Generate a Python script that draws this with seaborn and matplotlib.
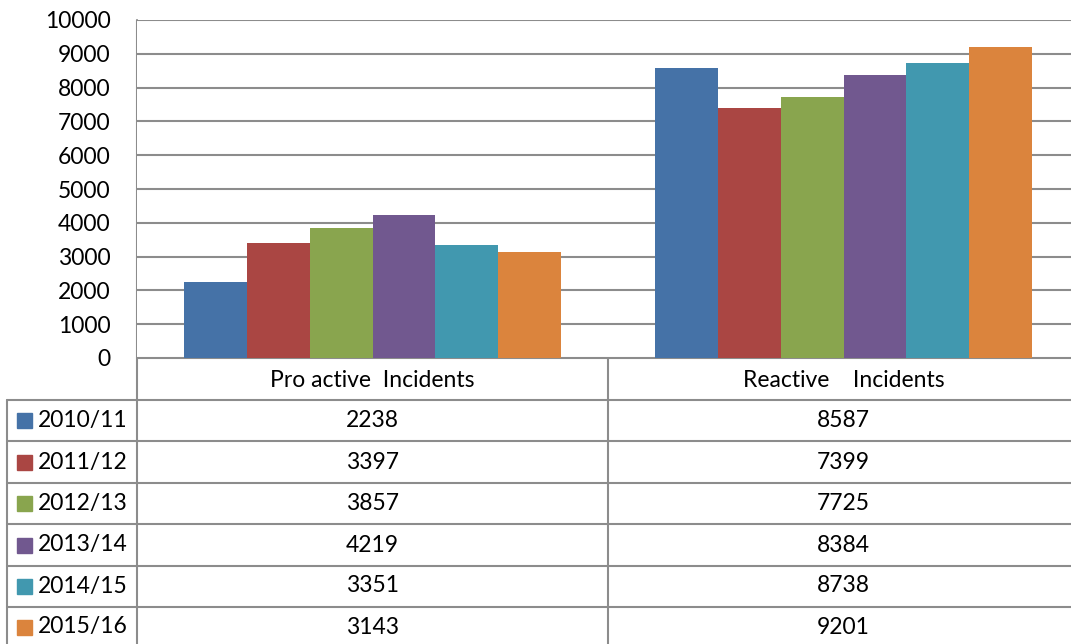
import pandas as pd
import matplotlib
matplotlib.use("Agg")
import matplotlib.pyplot as plt
import matplotlib.transforms as mtransforms
import seaborn as sns

# data
categories = ['Pro active  Incidents', 'Reactive    Incidents']
years = ['2010/11', '2011/12', '2012/13', '2013/14', '2014/15', '2015/16']
proactive = [2238, 3397, 3857, 4219, 3351, 3143]
reactive = [8587, 7399, 7725, 8384, 8738, 9201]
colors = ['#4572A7', '#AA4643', '#89A54E', '#71588F', '#4198AF', '#DB843D']

rows = []
for y, p, r in zip(years, proactive, reactive):
    rows.append({'category': categories[0], 'year': y, 'value': p})
    rows.append({'category': categories[1], 'year': y, 'value': r})
df = pd.DataFrame(rows)

sns.set_theme(style='white')
plt.rcParams['font.family'] = ['Lato', 'DejaVu Sans']
FS = 16.5
GRID = '#8c8c8c'

W, H = 1071, 644
fig = plt.figure(figsize=(W / 100, H / 100), dpi=100)

# table/overlay axes in pixel coords
tab = fig.add_axes([0, 0, 1, 1])
tab.set_xlim(0, W)
tab.set_ylim(H, 0)
tab.axis('off')

# plot area (runs a little past the right edge, as in the original)
left, right, top, bottom = 137, 1079, 20, 358
ax = fig.add_axes([left / W, (H - bottom) / H, (right - left) / W, (bottom - top) / H])
sns.barplot(data=df, x='category', y='value', hue='year', palette=colors,
            width=0.8, saturation=1, gap=0, legend=False, ax=ax,
            edgecolor='none', linewidth=0)
ax.set_xlim(-0.5, 1.5)
ax.set_ylim(0, 10000)
ax.set_yticks(range(0, 10001, 1000))
ax.tick_params(axis='y', length=0, pad=19, labelsize=FS, labelcolor='black')
ax.set_xticks([])
ax.set_xlabel('')
ax.set_ylabel('')
ax.yaxis.grid(True, color=GRID, linewidth=1.5)
ax.set_axisbelow(True)
for s in ['top', 'right', 'bottom', 'left']:
    ax.spines[s].set_visible(False)

# table lines
lw = 1.5
mid = (left + right) / 2
row_edges = [400, 441, 483, 524, 566, 607]
tab.plot([left, left], [top, H], color=GRID, lw=lw)
tab.plot([mid, mid], [bottom, H], color=GRID, lw=lw)
tab.plot([7, 7], [row_edges[0], H], color=GRID, lw=lw)
tab.plot([left, W], [bottom, bottom], color=GRID, lw=lw)
for ye in row_edges:
    tab.plot([7, W], [ye, ye], color=GRID, lw=lw)

# header and values, x in category data coords
blend = mtransforms.blended_transform_factory(ax.transData, tab.transData)
for i, cat in enumerate(categories):
    ax.text(i, 380, cat, transform=blend, ha='center', va='center',
            fontsize=FS, color='black', clip_on=False)
row_centers = [420, 462, 503, 545, 586, 627]
for yc, yr, p, r, c in zip(row_centers, years, proactive, reactive, colors):
    tab.add_patch(plt.Rectangle((17, yc - 7.5), 15, 15, color=c))
    tab.text(38, yc, yr, ha='left', va='center', fontsize=FS, color='black')
    ax.text(0, yc, str(p), transform=blend, ha='center', va='center',
            fontsize=FS, color='black', clip_on=False)
    ax.text(1, yc, str(r), transform=blend, ha='center', va='center',
            fontsize=FS, color='black', clip_on=False)

fig.savefig('out.png', dpi=100)
